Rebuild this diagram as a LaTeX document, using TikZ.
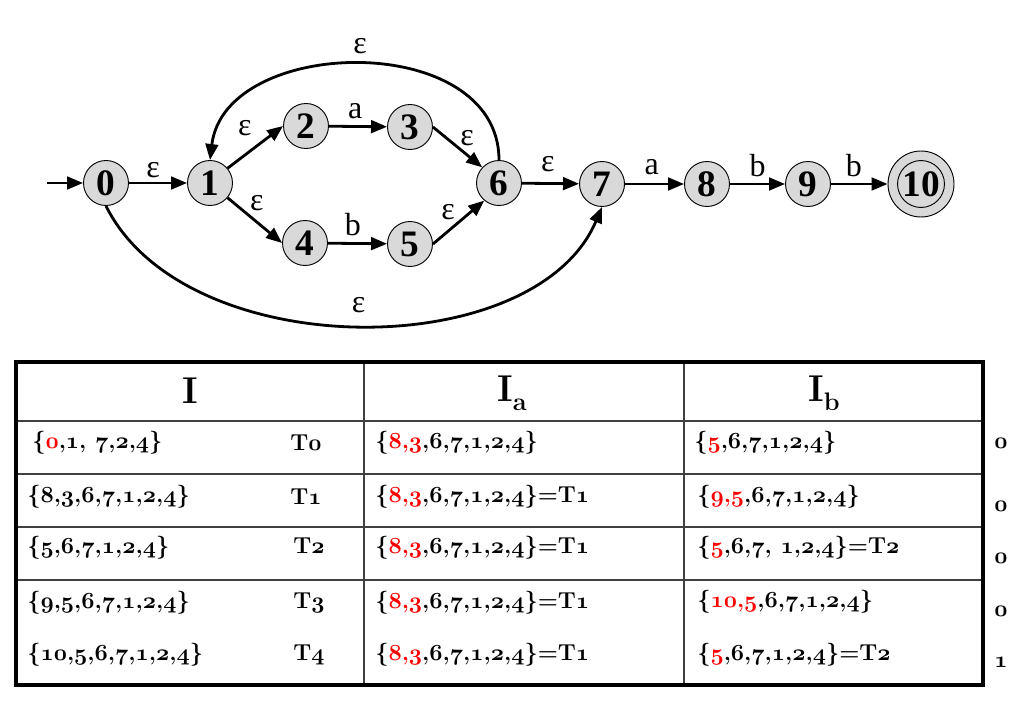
\documentclass[tikz,border=0pt]{standalone}
\usepackage{fontspec}
\usetikzlibrary{arrows.meta}
\newfontfamily\gfont{Liberation Serif}
\definecolor{nodegray}{HTML}{D9D9D9}
\definecolor{tred}{HTML}{FF0000}
\definecolor{tline}{HTML}{404040}
\makeatletter
\def\osnum#1{\osnum@#1\relax}
\def\osnum@#1{\ifx\relax#1\expandafter\@gobble\else\expandafter\@firstofone\fi{\osch{#1}\osnum@}}
\def\osch#1{\ifnum`#1>47 \ifnum`#1<58 {\usefont{OML}{cmm}{b}{it}#1}\else#1\fi\else#1\fi}
\makeatother
\newcommand\rd[1]{\textcolor{tred}{\osnum{#1}}}
\begin{document}
\begin{tikzpicture}[x=0.75pt,y=-0.75pt,
  st/.style={circle, draw=black, line width=0.7pt, fill=nodegray, minimum size=33.75pt, inner sep=0pt,
    font={\gfont\bfseries\fontsize{28pt}{28pt}\selectfont}},
  ar/.style={-{Triangle[length=12pt,width=9.5pt]}, line width=2.1pt},
  lb/.style={inner sep=0pt, font={\gfont\fontsize{24pt}{24pt}\selectfont}},
  tt/.style={anchor=west, inner sep=0pt, font={\bfseries\fontsize{17.28pt}{20pt}\selectfont}},
  tc/.style={anchor=center, inner sep=0pt, font={\bfseries\fontsize{17.28pt}{20pt}\selectfont}},
  hd/.style={inner sep=0pt, font={\bfseries\fontsize{28pt}{28pt}\selectfont}},
  grid/.style={line width=1.1pt, draw=tline},
  frame/.style={line width=2.4pt, draw=black}]
\useasboundingbox (0,0) rectangle (1017,710);

% ---------- automaton ----------
\node[st] (n0) at (106,183) {0};
\node[st] (n1) at (210,183) {1};
\node[st] (n2) at (306,126) {2};
\node[st] (n3) at (410,127) {3};
\node[st] (n4) at (305,243) {4};
\node[st] (n5) at (410,244) {5};
\node[st] (n6) at (499,183) {6};
\node[st] (n7) at (602,184) {7};
\node[st] (n8) at (707,184) {8};
\node[st] (n9) at (808,184) {9};
\node[st, minimum size=49.5pt] (n10) at (921,184) {10};
\draw[line width=0.7pt] (n10.center) circle (17.6pt);
\coordinate (start) at (47,183);

\draw[ar] (start) -- (n0);
\draw[ar] (n0) -- node[lb, above=3pt, xshift=-3.75pt] {ε} (n1);
\draw[ar] (n1.40) -- node[lb, xshift=-7.8pt, yshift=14.5pt] {ε} (n2.west);
\draw[ar] (n1.-40) -- node[lb, xshift=1.5pt, yshift=12.8pt] {ε} (n4.west);
\draw[ar] (n2) -- node[lb, above=4.5pt, xshift=-2pt] {a} (n3);
\draw[ar] (n4) -- node[lb, above=5pt, xshift=-3.4pt] {b} (n5);
\draw[ar] (n3.east) -- node[lb, xshift=7.1pt, yshift=7pt] {ε} (n6.137);
\draw[ar] (n5.east) -- node[lb, xshift=-7.9pt, yshift=7.5pt] {ε} (n6.-130);
\draw[ar] (n6) -- node[lb, above=8pt, xshift=-2pt] {ε} (n7);
\draw[ar] (n7) -- node[lb, above=6pt, xshift=-2pt] {a} (n8);
\draw[ar] (n8) -- node[lb, above=4pt] {b} (n9);
\draw[ar] (n9) -- node[lb, above=4pt, xshift=-4pt] {b} (n10);
\draw[ar] (n6.north) .. controls (499,30) and (225,35) .. node[lb, pos=0.5, above=7pt] {ε} (n1.north);
\draw[ar] (n0.south) .. controls (185,365) and (535,365) .. node[lb, pos=0.5, above=8pt] {ε} (n7.south);

% ---------- table ----------
\draw[grid] (364,362) -- (364,685);
\draw[grid] (684,362) -- (684,685);
\draw[grid] (16,421) -- (983,421);
\draw[grid] (16,474) -- (983,474);
\draw[grid] (16,527) -- (983,527);
\draw[grid] (16,580) -- (983,580);
\draw[frame] (16,362) rectangle (983,685);

\node[hd] (hI) at (190,391) {I};
\node[hd] (hIa) at (512,393) {I\raisebox{-7pt}{\fontsize{19pt}{19pt}\selectfont a}};
\node[hd] (hIb) at (824,393) {I\raisebox{-7pt}{\fontsize{19pt}{19pt}\selectfont b}};

% row 1
\node[tt] (r1a) at (32,443) {\osnum{\{}\rd{0}\osnum{,1,\ 7,2,4\}}};
\node[tt] (r1t) at (290,443) {\osnum{T0}};
\node[tt] (r1b) at (375,443) {\osnum{\{}\rd{8,3}\osnum{,6,7,1,2,4\}}};
\node[tt] (r1c) at (694,443) {\osnum{\{}\rd{5}\osnum{,6,7,1,2,4\}}};
\node[tc] (r1d) at (1001,443) {\osnum{0}};
% row 2
\node[tt] (r2a) at (27,497) {\osnum{\{8,3,6,7,1,2,4\}}};
\node[tt] (r2t) at (290,497) {\osnum{T1}};
\node[tt] (r2b) at (375,497) {\osnum{\{}\rd{8,3}\osnum{,6,7,1,2,4\}=T1}};
\node[tt] (r2c) at (697,497) {\osnum{\{}\rd{9,5}\osnum{,6,7,1,2,4\}}};
\node[tc] (r2d) at (1001,506) {\osnum{0}};
% row 3
\node[tt] (r3a) at (27,548) {\osnum{\{5,6,7,1,2,4\}}};
\node[tt] (r3t) at (293,546) {\osnum{T2}};
\node[tt] (r3b) at (375,548) {\osnum{\{}\rd{8,3}\osnum{,6,7,1,2,4\}=T1}};
\node[tt] (r3c) at (697,548) {\osnum{\{}\rd{5}\osnum{,6,7,\ 1,2,4\}=T2}};
\node[tc] (r3d) at (1001,558) {\osnum{0}};
% row 4
\node[tt] (r4a) at (27,603) {\osnum{\{9,5,6,7,1,2,4\}}};
\node[tt] (r4t) at (293,603) {\osnum{T3}};
\node[tt] (r4b) at (375,603) {\osnum{\{}\rd{8,3}\osnum{,6,7,1,2,4\}=T1}};
\node[tt] (r4c) at (697,602) {\osnum{\{}\rd{10,5}\osnum{,6,7,1,2,4\}}};
\node[tc] (r4d) at (1001,611) {\osnum{0}};
% row 5
\node[tt] (r5a) at (27,655) {\osnum{\{10,5,6,7,1,2,4\}}};
\node[tt] (r5t) at (293,655) {\osnum{T4}};
\node[tt] (r5b) at (375,655) {\osnum{\{}\rd{8,3}\osnum{,6,7,1,2,4\}=T1}};
\node[tt] (r5c) at (697,655) {\osnum{\{}\rd{5}\osnum{,6,7,1,2,4\}=T2}};
\node[tc] (r5d) at (1001,662) {\osnum{1}};
\end{tikzpicture}
\end{document}
